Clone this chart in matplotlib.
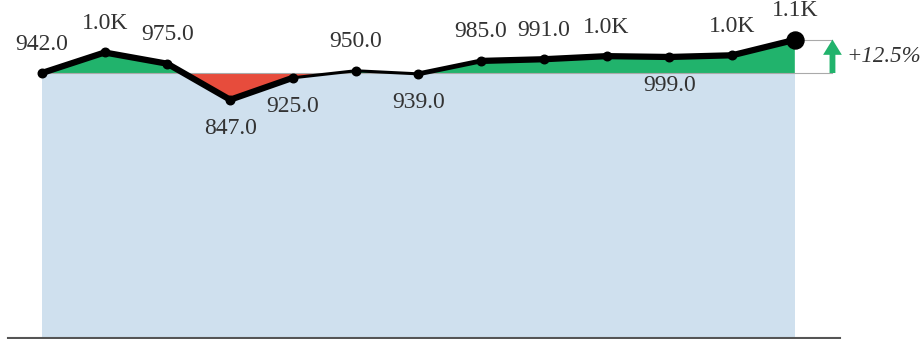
import matplotlib
matplotlib.use("Agg")
import matplotlib.pyplot as plt
import numpy as np
from matplotlib.collections import LineCollection

values = [942, 1015, 975, 847, 925, 950, 939, 985, 991, 1002, 999, 1005, 1060]
labels = ["942.0", "1.0K", "975.0", "847.0", "925.0", "950.0", "939.0",
          "985.0", "991.0", "1.0K", "999.0", "1.0K", "1.1K"]
label_above = [True, True, True, False, False, True, False, True, True, True, False, True, True]
segment_widths = [4.5, 4.5, 4.5, 4.5, 2.2, 2.2, 3.5, 4.5, 4.5, 4.5, 4.5, 4.5]
change_text = "+12.5%"

plt.rcParams['font.family'] = ['Liberation Serif', 'DejaVu Serif']

fig = plt.figure(figsize=(9.22, 3.39), dpi=100)
ax = fig.add_axes([8/922, 1/339, 832/922, 337/339])
x = np.arange(len(values))
y = np.array(values, dtype=float)
base = y[0]

ax.set_xlim(-0.54, 12.72)
ax.set_ylim(0, 1198)

ax.fill_between(x, 0, base, color="#cfe0ee", lw=0, zorder=1)
ax.fill_between(x, y, base, where=y >= base, interpolate=True, color="#21b36c", lw=0, zorder=2)
ax.fill_between(x, y, base, where=y <= base, interpolate=True, color="#e74c3c", lw=0, zorder=2)

arrow_x = 12.6
ax.plot([x[0], arrow_x], [base, base], color="#aaaaaa", lw=0.8, zorder=2.5)
ax.plot([x[-1], arrow_x], [y[-1], y[-1]], color="#aaaaaa", lw=0.8, zorder=2.5)

pts = np.column_stack([x, y])
segs = np.stack([pts[:-1], pts[1:]], axis=1)
lc = LineCollection(segs, linewidths=segment_widths, colors="black",
                    capstyle="round", joinstyle="round", zorder=3)
ax.add_collection(lc)
ax.scatter(x[:-1], y[:-1], s=38, color="black", zorder=4)
ax.scatter([x[-1]], [y[-1]], s=150, color="black", zorder=4)

for xi, yi, lab, up in zip(x, y, labels, label_above):
    off = 29 if up else -29
    ax.annotate(lab, (xi, yi), xytext=(0, off), textcoords="offset pixels",
                ha="center", va="center", fontsize=17, color="#333333")

ax.annotate("", xy=(arrow_x, y[-1] + 1), xytext=(arrow_x, base),
            arrowprops=dict(arrowstyle="simple,head_width=1.35,head_length=1.1,tail_width=0.42",
                            color="#21b36c", lw=0, shrinkA=0, shrinkB=0), zorder=3)
ax.text(12.82, (base + y[-1]) / 2, change_text, ha="left", va="center",
        fontsize=16.5, style="italic", color="#333333", clip_on=False)

for s in ["top", "right", "left"]:
    ax.spines[s].set_visible(False)
ax.spines["bottom"].set_color("#555555")
ax.spines["bottom"].set_linewidth(1.5)
ax.set_xticks([])
ax.set_yticks([])
ax.patch.set_alpha(0)

fig.savefig("out.png", dpi=100)
